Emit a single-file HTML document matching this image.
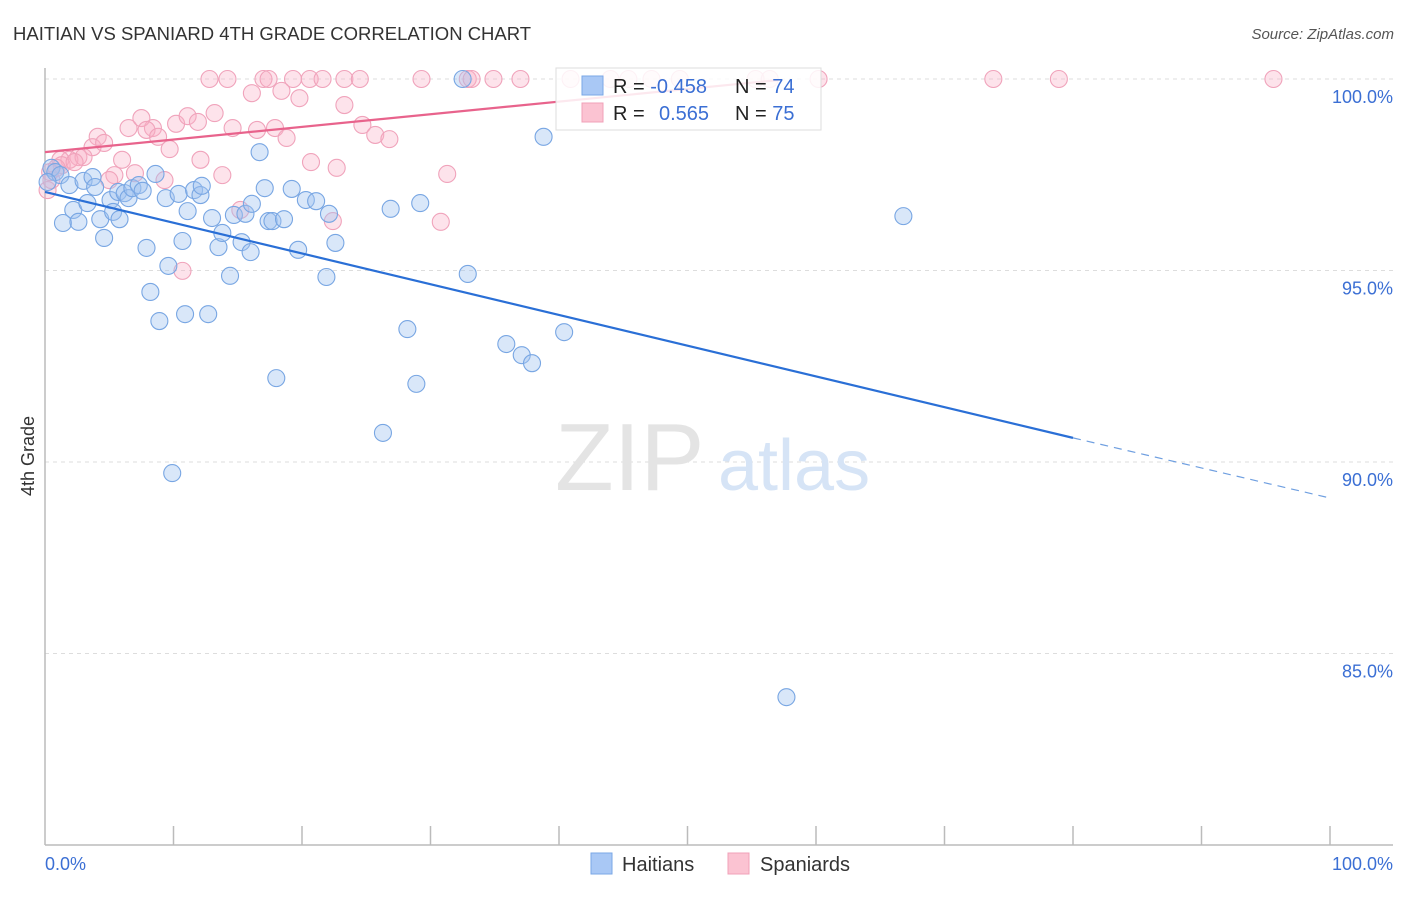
<!DOCTYPE html>
<html><head><meta charset="utf-8"><style>
body{margin:0;background:#fff;font-family:"Liberation Sans",sans-serif}
svg text{font-family:"Liberation Sans",sans-serif}
</style></head><body>
<svg id="chart" width="1406" height="892" viewBox="0 0 1406 892" xmlns="http://www.w3.org/2000/svg">
<text x="13" y="40" font-size="18.5" fill="#333">HAITIAN VS SPANIARD 4TH GRADE CORRELATION CHART</text>
<text x="1394" y="39" font-size="15" fill="#555" font-style="italic" text-anchor="end">Source: ZipAtlas.com</text>
<g id="grid"></g>
<g id="watermark">
<text x="555" y="490" font-size="96" fill="#e4e4e4" font-family="Liberation Serif">ZIP</text>
<text x="718" y="490" font-size="72" fill="#d6e4f6">atlas</text>
</g>
<g id="axes"></g>
<g id="points"></g>
<g id="lines"></g>
<text transform="translate(34,456) rotate(-90)" font-size="18" fill="#333" text-anchor="middle">4th Grade</text>
<g>
<rect x="556" y="68" width="265" height="62" fill="rgba(255,255,255,0.85)" stroke="#ddd"/>
<rect x="582" y="76" width="21" height="19" fill="#a9c8f5" stroke="#7aa7e6"/>
<rect x="582" y="103" width="21" height="19" fill="#fbc3d2" stroke="#f0a0b8"/>
<text x="613" y="93" font-size="20" fill="#222">R = <tspan fill="#3b6fd4">-0.458</tspan></text>
<text x="735" y="93" font-size="20" fill="#222">N = <tspan fill="#3b6fd4">74</tspan></text>
<text x="613" y="120" font-size="20" fill="#222">R = </text>
<text x="659" y="120" font-size="20" fill="#3b6fd4">0.565</text>
<text x="735" y="120" font-size="20" fill="#222">N = <tspan fill="#3b6fd4">75</tspan></text>
</g>
<g>
<rect x="591" y="853" width="21" height="21" fill="#a9c8f5" stroke="#7aa7e6"/>
<text x="622" y="871" font-size="20" fill="#333">Haitians</text>
<rect x="728" y="853" width="21" height="21" fill="#fbc3d2" stroke="#f0a0b8"/>
<text x="760" y="871" font-size="20" fill="#333">Spaniards</text>
</g>
</svg>
<script>
const yTicks=[100,95,90,85];
const yTickLabels=["100.0%","95.0%","90.0%","85.0%"];
const xTickCount=10;
const blueX=[0.5,0.8,1.2,0.2,1.9,3.0,3.7,3.9,2.2,3.3,1.4,2.6,4.3,4.6,5.1,5.3,5.8,5.7,6.2,6.5,6.8,7.3,7.6,7.9,8.2,8.6,8.9,9.4,9.6,9.9,10.4,10.7,10.9,11.1,11.6,12.1,12.2,12.7,13.0,13.5,13.8,14.4,14.7,15.3,15.6,16.0,16.1,16.7,17.1,17.4,17.7,18.0,18.6,19.2,19.7,20.3,21.1,21.9,22.1,22.6,26.3,26.9,28.2,28.9,29.2,32.5,32.9,35.9,37.1,37.9,38.8,40.4,57.7,66.8];
const blueY=[97.68,97.57,97.49,97.31,97.23,97.34,97.44,97.18,96.58,96.76,96.24,96.27,96.34,95.85,96.84,96.53,96.34,97.05,97.02,96.89,97.15,97.23,97.08,95.59,94.44,97.52,93.68,96.89,95.12,89.71,97.0,95.77,93.86,96.55,97.10,96.97,97.21,93.86,96.37,95.61,95.98,94.86,96.45,95.74,96.48,95.48,96.74,98.09,97.15,96.29,96.29,92.19,96.34,97.13,95.54,96.84,96.81,94.83,96.48,95.72,90.76,96.61,93.47,92.04,96.76,100,94.91,93.08,92.79,92.58,98.49,93.39,83.86,96.42];
const pinkX=[12.8,14.2,17.0,17.4,19.3,20.6,21.6,23.3,24.5,29.3,32.9,33.2,34.9,37.0,40.9,44.0,45.4,47.2,49.4,55.3,56.4,60.2,73.8,78.9,95.6,16.1,18.4,19.8,23.3,4.1,6.5,8.4,10.2,11.1,11.9,13.2,14.6,16.5,17.9,18.8,24.7,25.7,26.8,7.5,7.9,8.8,3.7,4.6,2.6,1.9,1.2,3.0,9.7,12.1,6.0,20.7,22.7,5.4,7.0,9.3,13.8,31.3,0.2,0.5,5.0,10.7,15.2,22.4,30.8,1.3,2.3,0.4,0.9];
const pinkY=[100,100,100,100,100,100,100,100,100,100,100,100,100,100,100,100,100,100,100,100,100,100,100,100,100,99.63,99.69,99.50,99.32,98.49,98.72,98.72,98.83,99.03,98.88,99.11,98.72,98.67,98.72,98.46,98.80,98.54,98.43,98.98,98.67,98.49,98.22,98.33,97.96,97.89,97.89,97.96,98.17,97.89,97.89,97.83,97.68,97.49,97.54,97.36,97.49,97.52,97.10,97.36,97.36,94.99,96.58,96.29,96.27,97.75,97.83,97.57,97.68];
const blueTrendX=[0,80,100];
const blueTrendY=[97.05,90.63,89.06];
const pinkTrendX=[0,57];
const pinkTrendY=[98.09,99.97];

const NS="http://www.w3.org/2000/svg";
const X0=45,X1=1330,Y100=79,PXPCT=38.3;
function sx(v){return X0+(X1-X0)*v/100;}
function sy(v){return Y100+(100-v)*PXPCT;}
function mk(tag,attrs,parent){const e=document.createElementNS(NS,tag);for(const k in attrs)e.setAttribute(k,attrs[k]);parent.appendChild(e);return e;}
const grid=document.getElementById('grid'),axes=document.getElementById('axes'),pts=document.getElementById('points'),lines=document.getElementById('lines');
yTicks.forEach((t,i)=>{
  const l=mk('line',{x1:X0,x2:1393,y1:sy(t),y2:sy(t),stroke:'#ddd','stroke-dasharray':'4,4'},grid);
  
  
  const tx=mk('text',{x:1393,y:sy(t)+24,'font-size':18,fill:'#3b6fd4','text-anchor':'end'},grid);
  tx.textContent=yTickLabels[i];
  
  
});
const ya=mk('line',{x1:X0,x2:X0,y1:68,y2:845,stroke:'#bbb','stroke-width':1.5},axes);


const xa=mk('line',{x1:X0,x2:1393,y1:845,y2:845,stroke:'#bbb','stroke-width':1.5},axes);


for(let i=1;i<=xTickCount;i++){
  const t=mk('line',{x1:sx(i*10),x2:sx(i*10),y1:826,y2:845,stroke:'#bbb','stroke-width':1.5},axes);
  
  
}
const xl0=mk('text',{x:45,y:870,'font-size':18,fill:'#3b6fd4'},axes);xl0.textContent='0.0%';


const xl1=mk('text',{x:1393,y:870,'font-size':18,fill:'#3b6fd4','text-anchor':'end'},axes);xl1.textContent='100.0%';


pinkX.forEach((x,i)=>{
  const c=mk('circle',{cx:sx(x),cy:sy(pinkY[i]),r:8.5,fill:'rgba(248,175,197,0.35)',stroke:'#f0a3bb','stroke-width':1.1},pts);
  
  
});
blueX.forEach((x,i)=>{
  const c=mk('circle',{cx:sx(x),cy:sy(blueY[i]),r:8.5,fill:'rgba(160,195,240,0.4)',stroke:'#78a6e3','stroke-width':1.1},pts);
  
  
});
const b1=mk('line',{x1:sx(blueTrendX[0]),y1:sy(blueTrendY[0]),x2:sx(blueTrendX[1]),y2:sy(blueTrendY[1]),stroke:'#2a6fd6','stroke-width':2.2},lines);


const b2=mk('line',{x1:sx(blueTrendX[1]),y1:sy(blueTrendY[1]),x2:sx(blueTrendX[2]),y2:sy(blueTrendY[2]),stroke:'#6f9fe0','stroke-width':1.2,'stroke-dasharray':'8,6'},lines);


const p1=mk('line',{x1:sx(pinkTrendX[0]),y1:sy(pinkTrendY[0]),x2:sx(pinkTrendX[1]),y2:sy(pinkTrendY[1]),stroke:'#e8638c','stroke-width':2.2},lines);


</script>
</body></html>
